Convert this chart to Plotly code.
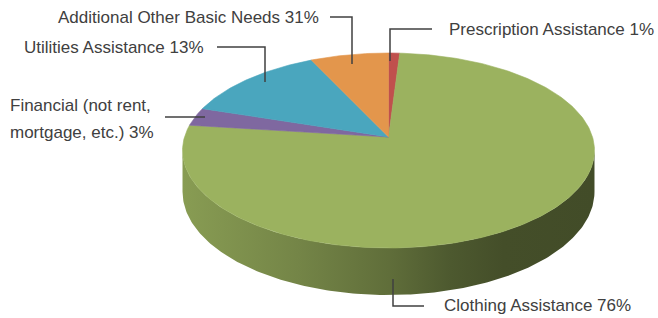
import numpy as np
import plotly.graph_objects as go

# ---- data (clockwise from 12 o'clock) ----
categories = ["Prescription Assistance", "Clothing Assistance",
              "Financial (not rent, mortgage, etc.)", "Utilities Assistance",
              "Additional Other Basic Needs"]
values = [1, 76, 3, 13, 7]            # slice sizes
label_texts = ["Prescription Assistance 1%", "Clothing Assistance 76%",
               "Financial (not rent,<br>mortgage, etc.) 3%", "Utilities Assistance 13%",
               "Additional Other Basic Needs 31%"]
colors = ["#c0504d", "#9bb25f", "#7f68a0", "#4aa6be", "#e3964c"]

# ---- geometry of the 3-D pie (perspective ellipse) ----
CX = 388.5     # horizontal centre
A = 204.0      # horizontal radius
P, Q, R = -76.66, 137.0, 0.1385   # projective vertical mapping
DEPTH = 40.5   # thickness


def proj(s, t, h=0.0):
    den = 1.0 + R * t
    return CX + A * s / den, (P * t + Q + DEPTH * h) / den


def shade(hexcol, f):
    h = hexcol.lstrip("#")
    r, g, b = (int(h[i:i + 2], 16) for i in (0, 2, 4))
    return "rgb(%d,%d,%d)" % (r * f, g * f, b * f)


fig = go.Figure()

total = float(sum(values))
cum = np.concatenate([[0], np.cumsum(values)]) / total * 2 * np.pi

# visible side: where cos(theta) <= -R
th_s = np.arccos(-R)
th_e = 2 * np.pi - th_s
for i, col in enumerate(colors):
    a0, a1 = max(cum[i], th_s), min(cum[i + 1], th_e)
    if a1 <= a0:
        continue
    th = np.linspace(a0, a1, 200)
    xt, yt = proj(np.sin(th), np.cos(th), 0)
    xb, yb = proj(np.sin(th[::-1]), np.cos(th[::-1]), 1)
    xs = np.concatenate([xt, xb, xt[:1]])
    ys = np.concatenate([yt, yb, yt[:1]])
    scale = [[0, shade(col, 0.88)], [0.28, shade(col, 0.75)], [0.5, shade(col, 0.62)],
             [0.65, shade(col, 0.5)], [0.78, shade(col, 0.44)], [1, shade(col, 0.43)]]
    fig.add_trace(go.Scatter(x=xs, y=ys, mode="lines", fill="toself",
                             line=dict(width=0, color=shade(col, 0.5)),
                             fillgradient=dict(type="horizontal", colorscale=scale),
                             hoverinfo="skip"))

# top face wedges
for i, col in enumerate(colors):
    th = np.linspace(cum[i], cum[i + 1], max(int(values[i] * 4), 6))
    ax, ay = proj(np.sin(th), np.cos(th), 0)
    cx0, cy0 = proj(0.0, 0.0, 0)
    xs = np.concatenate([[cx0], ax, [cx0]])
    ys = np.concatenate([[cy0], ay, [cy0]])
    fig.add_trace(go.Scatter(x=xs, y=ys, mode="lines", fill="toself",
                             fillcolor=col, line=dict(width=0.6, color=col),
                             hoverinfo="skip", name=categories[i]))

# ---- labels and leader lines ----
FONT = dict(family="Liberation Sans, Arial, sans-serif", size=17, color="#404040")
LINE_GAP = 27
label_pos = [(447, 29), (442, 305), (8, 105), (22, 47), (56, 17)]
leaders = [
    [(432, 29), (390, 29), (390, 61)],
    [(393, 279), (393, 306), (424, 306)],
    [(165, 117), (205, 117)],
    [(217, 47), (265, 47), (265, 82)],
    [(330, 17), (352, 17), (352, 64)],
]
for txt, (lx, ly), pts in zip(label_texts, label_pos, leaders):
    for k, line in enumerate(txt.split("<br>")):
        fig.add_annotation(x=lx, y=ly + k * LINE_GAP, text=line, showarrow=False,
                           xanchor="left", yanchor="middle", align="left", font=FONT)
    path = "M " + " L ".join("%g,%g" % p for p in pts)
    fig.add_shape(type="path", path=path, line=dict(color="#404040", width=1.5))

fig.update_layout(
    width=658, height=318, margin=dict(l=0, r=0, t=0, b=0),
    paper_bgcolor="white", plot_bgcolor="white", showlegend=False,
    xaxis=dict(range=[0, 658], visible=False, fixedrange=True),
    yaxis=dict(range=[318, 0], visible=False, fixedrange=True),
)
fig.write_html("out.html", config={"displayModeBar": False},
               post_script="document.body.style.margin='0';document.body.style.overflow='hidden';")
